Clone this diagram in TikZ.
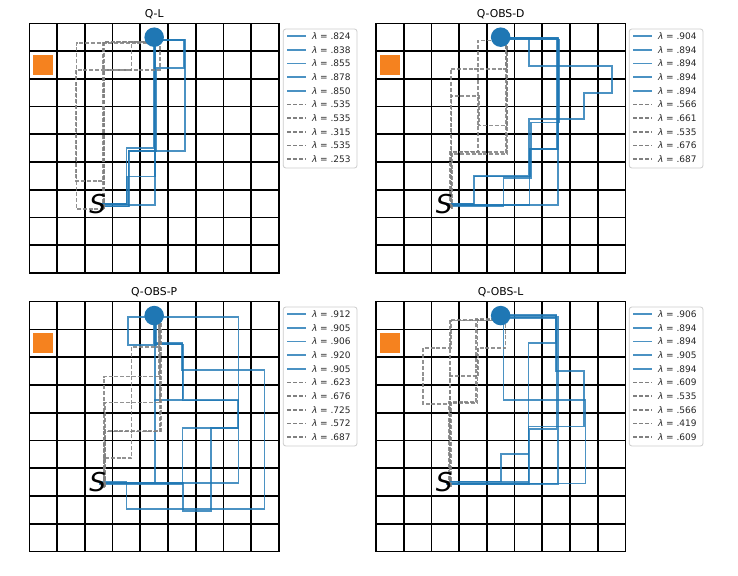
\documentclass[tikz,border=0pt]{standalone}
\usepackage{fontspec}
\setmainfont{DejaVu Sans}
\definecolor{mblue}{HTML}{1F77B4}
\definecolor{morange}{HTML}{F5821F}
\definecolor{mgray}{HTML}{808080}
\definecolor{legframe}{HTML}{CCCCCC}
\tikzset{
  gridline/.style={line width=1.8pt, black},
  frameline/.style={line width=1.2pt, black},
  bpath/.style={draw=mblue, line width=1.7pt, draw opacity=0.8},
  gpath/.style={draw=mgray, line width=1.7pt, dash pattern=on 4pt off 1.8pt, draw opacity=0.85},
  goalpt/.style={circle, fill=mblue, minimum size=19.5pt, inner sep=0pt},
  target/.style={fill=morange, minimum size=20pt, inner sep=0pt},
  startlbl/.style={font=\fontsize{26}{26}\selectfont\itshape, inner sep=0pt, text=black},
  ttl/.style={font=\fontsize{10.8}{12}\selectfont, inner sep=0pt},
  legbox/.style={draw=legframe, fill=white, rounded corners=2.5pt, line width=0.8pt},
  legtext/.style={font=\fontsize{9}{10}\selectfont, anchor=west, inner sep=0pt, text=black!85},
  bleg/.style={draw=mblue, line width=1.7pt, draw opacity=0.8},
  gleg/.style={draw=mgray, line width=1.7pt, dash pattern=on 4pt off 2pt},
}
\newcommand\drawlegend[4]{%
  \draw[legbox] (#1,#2) rectangle ++(73.7,139);
  \foreach \v [count=\k from 0] in {#3} {
    \pgfmathsetmacro\yy{#2+7+13.7*\k}
    \ifnum\k<5 \draw[bleg] (#1+4,\yy) -- ++(19,0); \else \draw[gleg] (#1+4,\yy) -- ++(19,0); \fi
    \node[legtext] (#4\k) at (#1+28.5,\yy) {{\itshape λ} = .\v};
  }
}
\newcommand\panelbase[2]{%
  \foreach \i in {1,...,8} {\draw[gridline] (\i,0) -- (\i,9); \draw[gridline] (0,\i) -- (9,\i);}
  \draw[frameline] (0,0) rectangle (9,9);
  \node[ttl] (title#1) at (4.5,-0.33) {#2};
  \node[target] (box#1) at (0.5,1.5) {};
}
\newcommand\panelmarks[1]{%
  \node[goalpt] (goal#1) at (4.5,0.5) {};
  \node[startlbl] (start#1) at (2.46,6.5) {S};
}
\begin{document}
\begin{tikzpicture}[x=1pt,y=-1pt]
\useasboundingbox (0,0) rectangle (738,575);
\fill[white] (0,0) rectangle (738,575);

% ---------------- Panel 1: Q-L
\begin{scope}[shift={(29.3,23.3)}, x=27.75pt, y=-27.75pt]
\panelbase{A}{Q-L}
\draw[bpath] (2.6,6.6) -- (3.6,6.6) -- (3.6,4.6) -- (5.6,4.6) -- (5.6,0.6) -- (4.6,0.6);
\draw[bpath] (2.5,6.5) -- (3.5,6.5) -- (3.5,4.5) -- (4.5,4.5) -- (4.5,0.5);
\draw[bpath] (2.52,6.52) -- (3.52,6.52) -- (3.52,5.52) -- (4.52,5.52) -- (4.52,0.52);
\draw[bpath] (2.54,6.54) -- (4.54,6.54) -- (4.54,0.54);
\draw[bpath] (2.58,6.6) -- (3.58,6.6) -- (3.58,4.6) -- (4.58,4.6) -- (4.58,1.6) -- (5.58,1.6) -- (5.58,0.6) -- (4.58,0.6);
\draw[gpath] (2.66,6.68) -- (2.66,0.68) -- (4.66,0.68);
\draw[gpath] (2.68,6.66) -- (2.68,0.66) -- (4.68,0.66);
\draw[gpath] (2.7,6.7) -- (1.7,6.7) -- (1.7,0.7) -- (4.7,0.7);
\draw[gpath] (2.68,6.68) -- (2.68,5.68) -- (1.68,5.68) -- (1.68,1.68) -- (3.68,1.68) -- (3.68,0.68) -- (4.68,0.68);
\draw[gpath] (2.7,6.68) -- (2.7,1.68) -- (4.7,1.68) -- (4.7,0.68);
\panelmarks{A}
\end{scope}

% ---------------- Panel 2: Q-OBS-D
\begin{scope}[shift={(376,23.3)}, x=27.7pt, y=-27.75pt]
\panelbase{B}{Q-OBS-D}
\draw[bpath] (2.54,6.54) -- (5.54,6.54) -- (5.54,4.54) -- (6.54,4.54) -- (6.54,0.54) -- (4.54,0.54);
\draw[bpath] (2.58,6.56) -- (6.58,6.56) -- (6.58,0.56) -- (4.58,0.56);
\draw[bpath] (2.52,6.5) -- (3.52,6.5) -- (3.52,5.5) -- (5.52,5.5) -- (5.52,3.46) -- (7.52,3.46) -- (7.52,2.5) -- (8.52,2.5) -- (8.52,1.54) -- (5.52,1.54) -- (5.52,0.54) -- (4.52,0.54);
\draw[bpath] (2.6,6.58) -- (4.6,6.58) -- (4.6,5.58) -- (5.6,5.58) -- (5.6,3.58) -- (6.6,3.58) -- (6.6,0.58) -- (4.6,0.58);
\draw[bpath] (2.56,6.52) -- (3.56,6.52) -- (3.56,5.52) -- (5.56,5.52) -- (5.56,4.52) -- (6.56,4.52) -- (6.56,0.52) -- (4.56,0.52);
\draw[gpath] (2.7,6.65) -- (2.7,4.65) -- (4.7,4.65) -- (4.7,0.65);
\draw[gpath] (2.74,6.7) -- (2.74,4.7) -- (4.74,4.7) -- (4.74,0.7);
\draw[gpath] (2.7,6.65) -- (2.7,1.65) -- (4.7,1.65) -- (4.7,0.65);
\draw[gpath] (2.68,6.62) -- (2.68,4.62) -- (3.68,4.62) -- (3.68,0.62) -- (4.68,0.62);
\draw[gpath] (2.72,6.68) -- (2.72,2.62) -- (3.72,2.62) -- (3.72,3.68) -- (4.72,3.68) -- (4.72,0.68);
\panelmarks{B}
\end{scope}

% ---------------- Panel 3: Q-OBS-P
\begin{scope}[shift={(29.3,301.7)}, x=27.75pt, y=-27.75pt]
\panelbase{C}{Q-OBS-P}
\draw[bpath] (2.5,6.5) -- (3.5,6.5) -- (3.5,7.47) -- (8.48,7.47) -- (8.48,2.46) -- (5.5,2.46) -- (5.5,1.5) -- (4.5,1.5) -- (4.5,0.5);
\draw[bpath] (2.54,6.54) -- (5.54,6.54) -- (5.54,7.54) -- (6.54,7.54) -- (6.54,4.54) -- (7.54,4.54) -- (7.54,3.54) -- (5.54,3.54) -- (5.54,1.54) -- (4.54,1.54) -- (4.54,0.54);
\draw[bpath] (2.52,6.56) -- (5.52,6.56) -- (5.52,4.56) -- (7.52,4.56) -- (7.52,3.56) -- (4.52,3.56) -- (4.52,0.56);
\draw[bpath] (2.52,6.52) -- (4.52,6.52) -- (4.52,3.52) -- (5.52,3.52) -- (5.52,1.52) -- (4.52,1.52) -- (4.52,0.52);
\draw[bpath] (2.54,6.54) -- (7.54,6.54) -- (7.54,0.54) -- (3.56,0.54) -- (3.56,1.56) -- (4.56,1.56) -- (4.56,0.54);
\draw[gpath] (2.7,6.68) -- (2.7,4.68) -- (4.7,4.68) -- (4.7,0.68);
\draw[gpath] (2.68,6.64) -- (2.68,5.64) -- (3.68,5.64) -- (3.68,1.64) -- (4.68,1.64) -- (4.68,0.64);
\draw[gpath] (2.68,6.7) -- (2.68,2.7) -- (4.68,2.7) -- (4.68,0.7);
\draw[gpath] (2.72,6.63) -- (2.72,3.63) -- (4.72,3.63) -- (4.72,0.63);
\draw[gpath] (2.74,6.66) -- (2.74,4.66) -- (4.74,4.66) -- (4.74,0.66);
\panelmarks{C}
\end{scope}

% ---------------- Panel 4: Q-OBS-L
\begin{scope}[shift={(376,301.7)}, x=27.7pt, y=-27.75pt]
\panelbase{D}{Q-OBS-L}
\draw[bpath] (2.5,6.5) -- (5.5,6.5) -- (5.5,4.5) -- (7.5,4.5) -- (7.5,2.5) -- (6.5,2.5) -- (6.5,0.5) -- (4.5,0.5);
\draw[bpath] (2.5,6.48) -- (4.5,6.48) -- (4.5,5.48) -- (5.5,5.48) -- (5.5,1.48) -- (6.5,1.48) -- (6.5,0.48) -- (4.5,0.48);
\draw[bpath] (2.58,6.56) -- (6.58,6.56) -- (6.58,0.56) -- (4.58,0.56);
\draw[bpath] (2.56,6.55) -- (7.56,6.55) -- (7.56,3.55) -- (4.6,3.55) -- (4.6,0.55);
\draw[bpath] (2.52,6.58) -- (5.52,6.58) -- (5.52,4.58) -- (6.52,4.58) -- (6.52,0.58) -- (4.52,0.58);
\draw[gpath] (2.66,6.65) -- (2.66,3.65) -- (3.66,3.65) -- (3.66,0.65) -- (4.66,0.65);
\draw[gpath] (2.66,6.66) -- (2.66,0.66) -- (4.66,0.66);
\draw[gpath] (2.7,6.68) -- (2.7,3.68) -- (1.7,3.68) -- (1.7,1.68) -- (2.7,1.68) -- (2.7,0.68) -- (4.7,0.68);
\draw[gpath] (2.68,6.68) -- (2.68,2.68) -- (3.68,2.68) -- (3.68,1.68) -- (4.68,1.68) -- (4.68,0.68);
\draw[gpath] (2.64,6.62) -- (2.64,3.62) -- (3.62,3.62) -- (3.62,0.62) -- (4.62,0.62);
\panelmarks{D}
\end{scope}

% ---------------- Legends
\drawlegend{283.3}{29}{824,838,855,878,850,535,535,315,535,253}{legA}
\drawlegend{629.3}{29}{904,894,894,894,894,566,661,535,676,687}{legB}
\drawlegend{283.3}{307}{912,905,906,920,905,623,676,725,572,687}{legC}
\drawlegend{629.3}{307}{906,894,894,905,894,609,535,566,419,609}{legD}
\end{tikzpicture}
\end{document}
